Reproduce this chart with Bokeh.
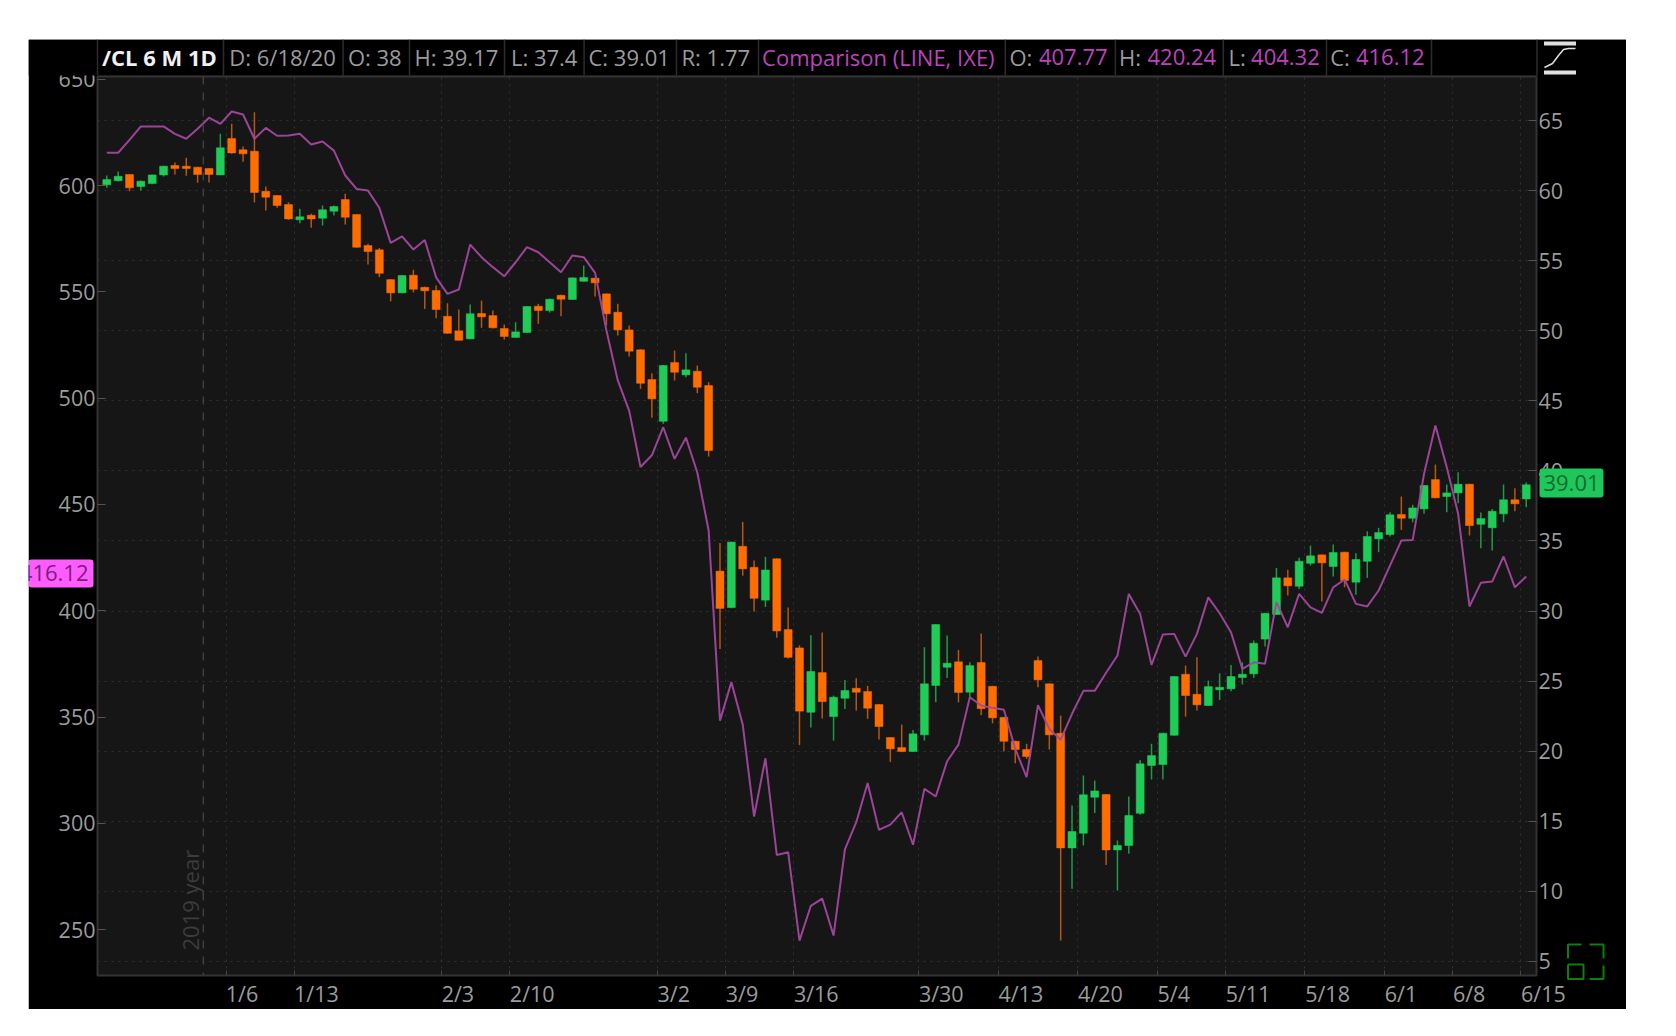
from bokeh.plotting import figure
from bokeh.core.properties import value
from bokeh.models import Range1d, LinearAxis, FixedTicker, ColumnDataSource, Span
from bokeh.embed import file_html
from bokeh.resources import INLINE

opens = [60.41,60.70,61.15,60.29,60.50,61.12,61.79,61.74,61.67,61.57,61.12,63.71,62.91,62.81,59.95,59.65,59.00,57.91,58.24,58.03,58.53,59.36,58.29,56.08,55.77,53.65,52.70,53.96,53.10,52.87,51.03,49.99,49.42,51.23,51.08,50.16,49.52,49.87,51.75,51.44,52.53,52.23,53.53,53.75,52.63,51.32,50.06,48.64,46.52,43.54,47.73,46.85,47.11,46.09,32.85,30.25,34.62,33.12,30.78,33.73,28.68,27.37,22.78,25.61,22.47,23.78,24.49,24.26,23.33,20.98,20.26,19.98,21.17,24.69,25.99,26.38,24.21,26.33,24.63,22.42,20.71,20.12,26.47,24.81,21.28,13.10,14.15,16.72,16.91,12.96,13.27,15.57,18.98,19.05,21.14,25.49,24.06,23.26,24.38,24.45,25.26,25.52,28.00,29.75,32.37,31.77,33.41,34.01,33.18,34.20,32.06,33.55,35.15,35.46,36.89,36.62,37.29,39.38,38.17,38.43,39.05,36.19,35.94,36.94,37.94,38.00]
highs = [61.07,61.36,61.15,60.72,61.15,61.78,62.00,62.34,61.70,61.60,64.05,64.76,63.14,65.59,60.29,59.68,59.17,58.70,58.34,58.93,58.93,59.77,58.32,56.20,55.91,53.68,53.97,54.35,53.13,53.23,51.96,51.51,51.87,52.15,51.44,50.44,50.61,51.76,51.92,52.28,52.56,53.80,54.65,53.78,52.66,51.92,50.37,48.67,46.97,47.55,48.59,48.39,47.52,46.33,34.86,34.95,36.36,33.60,33.87,33.76,30.25,27.56,28.28,28.47,23.97,25.09,25.21,24.66,23.36,21.01,21.90,21.52,27.42,29.07,28.25,27.23,26.35,28.40,24.66,22.45,20.74,20.53,26.75,24.84,22.54,16.12,18.26,17.91,16.94,13.63,16.77,19.38,20.53,21.31,25.36,26.11,26.70,25.04,25.56,26.16,26.35,27.90,29.87,33.08,32.94,33.80,34.67,34.04,34.75,34.23,34.13,35.69,35.94,37.05,38.17,37.58,38.99,40.45,39.03,39.90,39.08,37.03,37.29,39.03,38.76,39.17]
lows = [60.20,60.65,59.95,60.00,60.45,61.00,61.15,61.05,60.55,60.58,61.10,62.62,62.05,59.15,58.58,58.77,57.91,57.67,57.34,57.51,58.22,57.58,55.93,54.72,53.82,52.10,52.67,52.73,51.56,50.89,49.78,49.30,49.40,50.21,50.16,49.37,49.50,49.85,50.49,51.30,51.04,52.20,53.50,52.44,50.37,49.66,48.16,45.85,43.79,43.36,46.45,46.68,45.54,41.02,27.29,30.20,32.53,29.97,30.29,28.10,26.61,20.44,21.70,22.33,20.76,23.02,22.90,22.31,20.83,19.24,19.93,19.95,20.76,23.49,25.23,23.49,23.85,22.57,21.99,19.98,19.14,19.45,24.56,20.12,6.49,10.18,13.27,15.60,11.89,10.06,12.68,15.46,17.98,17.98,21.10,22.47,22.90,23.22,23.66,24.28,24.76,25.23,27.47,29.72,31.11,31.58,33.25,30.68,32.46,31.70,31.16,32.37,34.20,35.32,35.79,36.34,36.94,38.05,37.05,37.69,35.39,34.48,34.32,36.34,37.12,37.40]
closes = [60.79,61.02,60.20,60.67,61.12,61.74,61.57,61.57,61.15,61.15,63.05,62.69,62.62,59.86,59.53,58.93,57.98,58.13,57.98,58.63,58.86,58.10,55.96,55.65,54.10,52.70,53.94,52.96,52.85,51.51,49.82,49.32,51.21,50.99,50.21,49.59,49.92,51.73,51.44,52.25,52.25,53.77,53.80,53.42,51.21,50.06,48.54,46.25,45.14,47.52,47.04,47.21,45.97,41.45,30.19,34.92,33.01,30.91,32.93,28.58,26.70,22.86,25.69,23.54,23.85,24.33,24.21,23.07,21.76,20.17,19.98,21.24,24.81,29.04,26.28,24.19,26.11,23.04,22.38,20.71,20.12,19.62,25.09,21.17,13.10,14.27,16.89,17.17,12.96,13.27,15.41,19.10,19.69,21.28,25.33,23.97,23.31,24.61,24.56,25.33,25.49,27.70,29.84,32.37,31.80,33.55,33.94,33.44,34.18,32.18,33.68,35.32,35.60,36.87,36.62,37.36,38.96,38.08,38.43,39.05,36.10,36.60,37.12,37.94,37.65,39.01]
comparison = [615.4,615.4,621.5,627.8,627.8,627.8,624.3,622.0,626.7,631.9,629.0,634.8,633.4,622.0,627.1,623.4,623.5,624.3,619.3,620.7,616.4,604.7,598.4,597.6,589.5,573.0,576.1,569.9,574.4,556.8,549.0,551.1,572.2,566.3,561.6,557.3,563.9,571.0,568.6,563.9,559.2,567.1,566.3,558.9,531.8,508.3,494.1,467.6,473.1,486.3,471.4,481.4,465.0,437.7,348.3,366.4,346.5,303.2,330.6,285.1,286.4,244.8,261.2,264.6,247.2,287.7,300.5,319.0,296.9,299.4,305.2,289.9,316.2,312.6,329.2,337.0,359.3,355.4,354.3,353.4,335.0,321.7,355.6,344.4,339.3,351.5,362.3,362.3,370.8,378.9,407.9,398.5,374.5,388.8,389.1,378.4,389.1,406.3,398.8,389.9,372.6,375.7,375.1,404.0,392.2,407.9,401.6,399.0,411.0,414.7,403.2,402.0,409.5,421.2,433.0,433.3,464.4,487.1,467.5,445.6,402.0,413.1,413.7,425.5,411.0,416.12]

date_ticks = [10.5,16.5,29.5,35.5,48.5,54.5,60.5,71.5,78.5,85.5,92.5,98.5,105.5,112.5,118.5,124.5]
date_labels = ["1/6","1/13","2/3","2/10","3/2","3/9","3/16","3/30","4/13","4/20","5/4","5/11","5/18","6/1","6/8","6/15"]
left_ticks = [250,300,350,400,450,500,550,600,650]
right_ticks = [5,10,15,20,25,30,35,40,45,50,55,60,65]

FONT = "Open Sans"
BG, GRID = "#161616", "#333333"
UP, DOWN, UPW, DOWNW = "#20cc58", "#ff6d00", "#1f9a48", "#b7560f"
MAG = "#bd43bd"
GRAY = "#9c9c9c"
OX, OY, W, H = 28, 39, 1598, 970   # page position and size of the black panel

def X(px):
    return (px - 106.0) / 11.362
def Y(py):
    return 65 - (py - 120.0) / 14.016

p = figure(width=W, height=H, output_backend="svg", toolbar_location=None,
           x_range=Range1d(X(96.7), X(1536.5)), y_range=Range1d(Y(975), Y(76)),
           y_axis_location="right", background_fill_color=BG, border_fill_color="black",
           min_border_left=69, min_border_right=90, min_border_top=37, min_border_bottom=34)
p.margin = (OY, 0, 0, OX)
p.extra_y_ranges = {"cmp": Range1d(600 - (975 - 185) / 2.126, 600 + (185 - 76) / 2.126)}
p.outline_line_color = "#333333"
p.outline_line_width = 2

ra = p.yaxis[0]
ra.ticker = FixedTicker(ticks=right_ticks)
la = LinearAxis(y_range_name="cmp", ticker=FixedTicker(ticks=left_ticks))
p.add_layout(la, "left")
for ax in [ra, la]:
    ax.axis_line_color = "#333333"
    ax.major_tick_line_color = "#555555"
    ax.major_tick_in = 8
    ax.major_tick_out = 0
    ax.minor_tick_line_color = None
    ax.major_label_text_color = GRAY
    ax.major_label_text_font = FONT
    ax.major_label_text_font_size = "21.5px"
    ax.major_label_standoff = 2

xa = p.xaxis[0]
xa.ticker = FixedTicker(ticks=date_ticks)
xa.major_label_overrides = {t: "" for t in date_ticks}
xa.major_label_standoff = 0
xa.axis_line_color = "#333333"
xa.major_tick_line_color = "#444444"
xa.major_tick_in = 5
xa.major_tick_out = 0
xa.minor_tick_line_color = None

p.ygrid.grid_line_color = GRID
p.ygrid.grid_line_dash = "2 5"
p.xgrid.ticker = FixedTicker(ticks=date_ticks)
p.xgrid.grid_line_color = GRID
p.xgrid.grid_line_dash = "2 5"

p.add_layout(Span(location=8.5, dimension="height", line_color="#3f3f3f", line_dash="8 8", line_width=1.5))

idx = list(range(len(opens)))
src = ColumnDataSource(dict(
    x=idx, o=opens, h=highs, l=lows, c=closes,
    bottom=[min(a, b) for a, b in zip(opens, closes)],
    top=[max(a, b) for a, b in zip(opens, closes)],
    fill=[UP if c >= o else DOWN for o, c in zip(opens, closes)],
    wick=[UPW if c >= o else DOWNW for o, c in zip(opens, closes)],
))
p.segment("x", "h", "x", "l", source=src, line_color="wick", line_width=1.5)
p.vbar("x", width=0.7, bottom="bottom", top="top", source=src, fill_color="fill", line_color="fill", line_width=0.5)
p.line(idx, comparison, y_range_name="cmp", line_color="#a3479f", line_width=2, line_alpha=0.95)

# transparent sheet over the whole panel, in page pixels, for everything outside the plot frame
ov = figure(width=W, height=H, output_backend="svg", toolbar_location=None, x_axis_type=None, y_axis_type=None,
            x_range=Range1d(OX, OX + W), y_range=Range1d(OY + H, OY),
            min_border=0, background_fill_color=None, border_fill_color=None, outline_line_color=None)
ov.margin = (-H, 0, 0, OX)

def box(l, r, t, b, color, radius=0):
    ov.quad(left=[l], right=[r], top=[t], bottom=[b], fill_color=color, line_color=None, border_radius=radius)

def txt(px, py, s, color=GRAY, style="normal", align="left", size="22px", angle=0):
    ov.text(x=[px], y=[py - 8.5], text=[s], text_color=color, text_font=value(FONT), text_font_size=size,
            text_font_style=style, text_align=align, text_baseline="alphabetic", angle=angle)

def path(points, color, width):
    ov.line([a for a, b in points], [b for a, b in points], line_color=color, line_width=width)

# header bar
box(28, 1626, 39, 75, "black")
box(97, 1536.5, 75, 76.5, "#333333")
for sx in [97, 223, 342.6, 409, 504, 583.6, 676, 758, 1004.8, 1114.9, 1222.8, 1326, 1431, 1536.5]:
    box(sx - 0.75, sx + 0.75, 39, 75, "#2c2c2c")
txt(101.5, 65, "/CL 6 M 1D", color="#f0f0f0", style="bold")
txt(228.8, 65, "D: 6/18/20")
txt(347.4, 65, "O: 38")
txt(414, 65, "H: 39.17")
txt(510.4, 65, "L: 37.4")
txt(588, 65, "C: 39.01")
txt(681, 65, "R: 1.77")
txt(761.6, 65, "Comparison (LINE, IXE)", color=MAG)
txt(1009, 65, "O:")
txt(1038.4, 65, "407.77", color=MAG)
txt(1118.6, 65, "H:")
txt(1147, 65, "420.24", color=MAG)
txt(1228, 65, "L:")
txt(1250.6, 65, "404.32", color=MAG)
txt(1329.7, 65, "C:")
txt(1355.4, 65, "416.12", color=MAG)

# date labels start at their tick
for t, s in zip(date_ticks, date_labels):
    txt(106.0 + 11.362 * t, 1001, s, size="21.5px")

# price badges
box(1539, 1603, 468, 497, "#1fc75a", 3)
txt(1571, 491, "39.01", color="#0f6a33", align="center")
box(28, 93, 559, 587, "#ff5cff", 3)
txt(88, 581, "416.12", color="#7a1f7a", align="right")

txt(189.5, 958.5, "2019 year", color="#3c3c3c", angle=1.5708)

# style icon, top right
box(1543.5, 1575.5, 41, 45, "#e0e0e0")
box(1543.5, 1575.5, 70, 74, "#e0e0e0")
path([(1544, 67), (1552, 63), (1558, 55), (1563, 49), (1568, 48), (1575, 48)], "#e0e0e0", 1.5)

# expand icon, bottom right
G2 = "#0c7f0c"
path([(1567.5, 958), (1567.5, 944), (1581, 944)], G2, 2)
path([(1589, 944), (1603, 944), (1603, 958)], G2, 2)
path([(1603, 965), (1603, 978.5), (1589, 978.5)], G2, 2)
path([(1567.5, 964), (1583, 964), (1583, 978.5), (1567.5, 978.5), (1567.5, 964)], G2, 2)

open("out.html", "w").write(file_html([p, ov], INLINE))
